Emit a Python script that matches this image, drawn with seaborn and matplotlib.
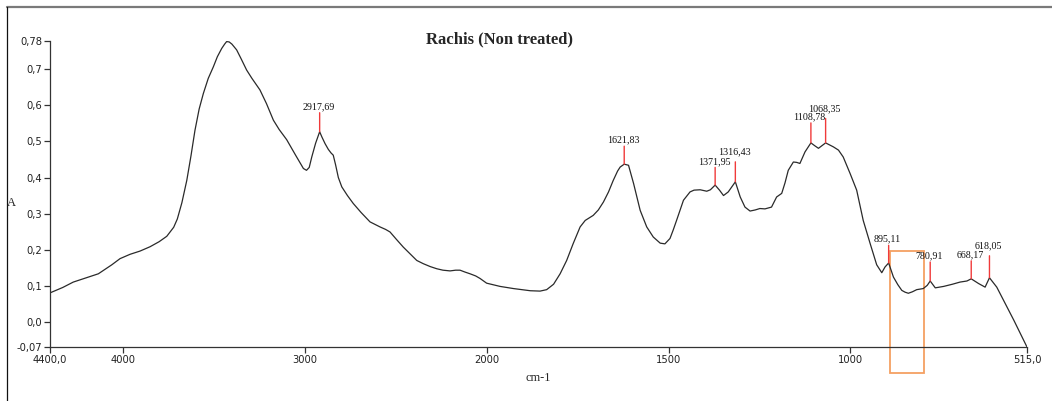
import numpy as np
import pandas as pd
import matplotlib
matplotlib.use("Agg")
import matplotlib.pyplot as plt
from matplotlib.patches import Rectangle
from matplotlib.lines import Line2D
import seaborn as sns

# FTIR absorbance spectrum of untreated rachis
wavenumber = [
    4400, 4330, 4272, 4200, 4134, 4060, 4015, 3960, 3905, 3850, 3800, 3758,
    3720, 3700, 3675, 3648, 3625, 3603, 3580, 3557, 3530, 3502, 3480, 3456,
    3440, 3429, 3415, 3400, 3374, 3350, 3319, 3290, 3246, 3210, 3172, 3140,
    3099, 3050, 3007, 2990, 2975, 2961, 2940, 2917.69, 2905, 2888, 2870, 2855,
    2843, 2830, 2815, 2796, 2765, 2733, 2690, 2641, 2586, 2555, 2531, 2495,
    2458, 2420, 2384, 2348, 2310, 2274, 2240, 2201, 2170, 2146, 2120, 2091,
    2060, 2036, 2000, 1963, 1926, 1880, 1853, 1835, 1816, 1798, 1780, 1762,
    1743, 1729, 1715, 1707, 1693, 1679, 1665, 1652, 1640, 1633, 1621.83, 1610,
    1596, 1578, 1560, 1542, 1523, 1510, 1496, 1487, 1478, 1459, 1441, 1430,
    1413, 1395, 1385, 1371.95, 1360, 1349, 1336, 1316.43, 1303, 1290, 1276,
    1262, 1249, 1235, 1217, 1203, 1189, 1180, 1171, 1157, 1148, 1139, 1125,
    1108.78, 1098, 1088, 1068.35, 1047, 1033, 1020, 1001, 983, 965, 946, 928,
    914, 905, 895.11, 882, 870, 859, 850, 841, 830, 818, 800, 789, 780.91,
    767, 744, 720, 699, 680, 668.17, 648, 630, 618.05, 598, 579, 551, 515,
]
absorbance = [
    0.080, 0.095, 0.110, 0.122, 0.133, 0.158, 0.175, 0.187, 0.196, 0.208, 0.222, 0.237,
    0.262, 0.285, 0.330, 0.392, 0.460, 0.531, 0.590, 0.633, 0.675, 0.707, 0.735, 0.758,
    0.770, 0.777, 0.776, 0.770, 0.754, 0.730, 0.698, 0.675, 0.643, 0.605, 0.559, 0.533,
    0.505, 0.462, 0.425, 0.420, 0.428, 0.457, 0.495, 0.527, 0.512, 0.494, 0.478, 0.468,
    0.462, 0.435, 0.400, 0.374, 0.350, 0.328, 0.303, 0.277, 0.263, 0.256, 0.249, 0.228,
    0.207, 0.188, 0.170, 0.161, 0.153, 0.147, 0.143, 0.141, 0.143, 0.143, 0.138, 0.133,
    0.127, 0.120, 0.107, 0.098, 0.092, 0.086, 0.085, 0.089, 0.104, 0.133, 0.170, 0.217,
    0.263, 0.281, 0.290, 0.295, 0.310, 0.332, 0.360, 0.392, 0.418, 0.429, 0.437, 0.434,
    0.383, 0.309, 0.263, 0.235, 0.218, 0.216, 0.231, 0.255, 0.281, 0.337, 0.360, 0.365,
    0.366, 0.362, 0.366, 0.379, 0.365, 0.350, 0.360, 0.388, 0.346, 0.318, 0.307,
    0.310, 0.314, 0.313, 0.318, 0.346, 0.356, 0.385, 0.420, 0.443, 0.442, 0.439, 0.471,
    0.496, 0.488, 0.481, 0.496, 0.485, 0.476, 0.457, 0.411, 0.365, 0.281, 0.217, 0.158,
    0.136, 0.152, 0.163, 0.124, 0.103, 0.087, 0.082, 0.079, 0.083, 0.089, 0.092, 0.101, 0.113,
    0.094, 0.098, 0.104, 0.110, 0.113, 0.119, 0.106, 0.096, 0.122, 0.096, 0.059, 0.004, -0.070,
]

# picked peaks and their labels
peak_wn = [2917.69, 1621.83, 1371.95, 1316.43, 1108.78, 1068.35, 895.11, 780.91, 668.17, 618.05]
peak_labels = ["2917,69", "1621,83", "1371,95", "1316,43", "1108,78",
               "1068,35", "895,11", "780,91", "668,17", "618,05"]

x_ticks = [4400, 4000, 3000, 2000, 1500, 1000, 515]
x_tick_labels = ["4400,0", "4000", "3000", "2000", "1500", "1000", "515,0"]
y_ticks = [0.78, 0.7, 0.6, 0.5, 0.4, 0.3, 0.2, 0.1, 0.0, -0.07]
y_tick_labels = ["0,78", "0,7", "0,6", "0,5", "0,4", "0,3", "0,2", "0,1", "0,0", "-0,07"]

# highlighted band (cm-1, absorbance)
box_wn = [890.5, 798.5]
box_abs = [0.196, -0.143]

df = pd.DataFrame({"wavenumber": wavenumber, "absorbance": absorbance})

sns.set_style("ticks")
plt.rcParams["font.family"] = ["DejaVu Sans"]

fig = plt.figure(figsize=(10.52, 4.01), dpi=100)
ax = fig.add_axes([0.0475, 0.1347, 0.9287, 0.7643])


# x axis is expanded twofold below 2000 cm-1
def fwd(x):
    x = np.asarray(x, dtype=float)
    return np.where(x >= 2000, x, 2 * x - 2000)


def inv(u):
    u = np.asarray(u, dtype=float)
    return np.where(u >= 2000, u, (u + 2000) / 2)


ax.set_xscale("function", functions=(fwd, inv))

sns.lineplot(data=df, x="wavenumber", y="absorbance", ax=ax, sort=False,
             estimator=None, color="#2a2a2a", linewidth=0.9)

ax.set_xlim(4400, 515)
ax.set_ylim(-0.07, 0.78)

ax.set_xticks(x_ticks)
ax.set_xticklabels(x_tick_labels)
ax.set_yticks(y_ticks)
ax.set_yticklabels(y_tick_labels)
ax.xaxis.set_minor_locator(matplotlib.ticker.NullLocator())
ax.tick_params(axis="both", length=4.3, width=0.9, color="#333333",
               labelsize=7.2, labelcolor="#222222", pad=1.2, direction="out")

for side in ("top", "right"):
    ax.spines[side].set_visible(False)
for side in ("left", "bottom"):
    ax.spines[side].set_color("#333333")
    ax.spines[side].set_linewidth(0.9)

ax.set_xlabel("cm-1", family="Liberation Serif", fontsize=8.8, labelpad=5)
ax.set_ylabel("")
fig.text(11 / 1052, 1 - 203 / 401, "A", family="Liberation Serif",
         fontsize=9, ha="center", va="center")

fig.text(500 / 1052, 1 - 39 / 401, "Rachis (Non treated)",
         family="Liberation Serif", fontweight="bold", fontsize=12,
         ha="center", va="center")

# peak markers: red stems with wavenumber labels; neighbouring labels are
# lifted a little so they stay readable
stem_px = [19, 18, 17.7, 20, 20, 24.4, 17.7, 19, 18, 22]
lift_px = [0, 0, 0, 4, 0, 4, 0, 0, 0, 4]
px2pt = 72 / fig.dpi
for wn, lab, stem, lift in zip(peak_wn, peak_labels, stem_px, lift_px):
    h = float(np.interp(wn, wavenumber[::-1], absorbance[::-1]))
    ax.annotate("", xy=(wn, h), xytext=(0, stem * px2pt),
                textcoords="offset points",
                arrowprops=dict(arrowstyle="-", color="#f03a3a", lw=1.0,
                                shrinkA=0, shrinkB=0))
    ax.annotate(lab, xy=(wn, h), xytext=(-1.2 * px2pt, (stem + 1.5 + lift) * px2pt),
                textcoords="offset points", ha="center", va="bottom",
                family="Liberation Serif", fontsize=7.2, color="#111111")

ax.add_patch(Rectangle((box_wn[0], box_abs[1]), box_wn[1] - box_wn[0],
                       box_abs[0] - box_abs[1], fill=False,
                       edgecolor="#f5a062", linewidth=1.3, clip_on=False))

# panel frame
fig.add_artist(Line2D([7 / 1052, 1.0], [1 - 6.5 / 401, 1 - 6.5 / 401],
                      transform=fig.transFigure, color="#7a7a7a", linewidth=1.6))
fig.add_artist(Line2D([7 / 1052, 7 / 1052], [0.0, 1 - 6.5 / 401],
                      transform=fig.transFigure, color="#111111", linewidth=0.9))

fig.savefig("out.png", dpi=100)
